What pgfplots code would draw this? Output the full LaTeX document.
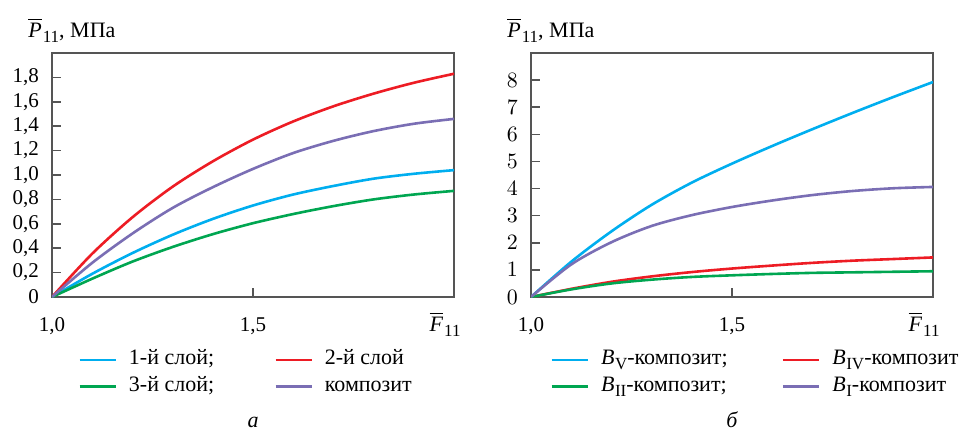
\documentclass[border=0pt]{standalone}
\usepackage{fontspec}
\IfFontExistsTF{LiberationSerif-Regular.ttf}{%
  \setmainfont{LiberationSerif-Regular.ttf}[ItalicFont=LiberationSerif-Italic.ttf, BoldFont=LiberationSerif-Bold.ttf]}{%
  \setmainfont{DejaVu Serif}}
\usepackage{pgfplots}
\pgfplotsset{compat=1.18}
\definecolor{cblue}{HTML}{00AEEF}
\definecolor{cred}{HTML}{ED1C24}
\definecolor{cgreen}{HTML}{00A651}
\definecolor{cpurple}{RGB}{122,110,180}
\definecolor{axgray}{RGB}{85,85,85}
\newcommand{\Pbar}{$\overline{\mbox{\textit{P}}}$\kern0.5pt{\fontsize{8.5}{9}\selectfont\raisebox{-2.5pt}{11}}}
\newcommand{\Fbar}{$\overline{\mbox{\textit{F}}}$\kern0.5pt{\fontsize{8.5}{9}\selectfont\raisebox{-2.5pt}{11}}}
\newcommand{\Bsub}[1]{\textit{B}\kern0.3pt{\fontsize{8.5}{9}\selectfont\raisebox{-2.5pt}{#1}}}
\pgfplotsset{
  mystyle/.style={
    scale only axis, width=201pt, height=122pt,
    font=\fontsize{10.5}{12}\selectfont,
    xmin=1, xmax=2, ymin=0,
    axis line style={axgray, line width=0.9pt},
    tick style={axgray, line width=0.8pt},
    major tick length=4.5pt,
    tick pos=left, tick align=inside,
    xtick={1,1.5}, xticklabels={{1,0},{1,5}},
    xticklabel style={anchor=base, yshift=-17pt},
    yticklabel style={xshift=-3pt},
    every axis plot/.append style={line width=1.3pt, smooth, tension=0.5, no marks},
    legend columns=2,
    legend cell align=left,
    legend image code/.code={\draw[#1] (0pt,0pt) -- (18pt,0pt);},
    legend style={draw=none, fill=none, inner sep=0pt, row sep=3.8pt,
      font=\fontsize{11}{12}\selectfont,
      nodes={inner sep=0pt, text height=7pt, text depth=2.5pt},
      /tikz/every odd column/.append style={column sep=6pt}},
  }
}
\begin{document}
\begin{tikzpicture}
\useasboundingbox (-26pt,-66.5pt) rectangle (459pt,148.5pt);
\begin{axis}[mystyle, name=A, ymax=2.0,
  ytick={0,0.2,0.4,0.6,0.8,1.0,1.2,1.4,1.6,1.8},
  yticklabels={0,{0,2},{0,4},{0,6},{0,8},{1,0},{1,2},{1,4},{1,6},{1,8}},
  legend style={at={(13pt,-26.5pt)}, anchor=north west,
    /tikz/every even column/.append style={column sep=30pt}}]
\addplot[cblue] coordinates {(1.0,0) (1.1,0.19) (1.2,0.36) (1.3,0.51) (1.4,0.64) (1.5,0.75) (1.6,0.84) (1.7,0.91) (1.8,0.97) (1.9,1.01) (2.0,1.04)};
\addlegendentry{1-й слой;}
\addplot[cred] coordinates {(1.0,0) (1.1,0.355) (1.2,0.653) (1.3,0.904) (1.4,1.112) (1.5,1.29) (1.6,1.439) (1.7,1.563) (1.8,1.667) (1.9,1.756) (2.0,1.83)};
\addlegendentry{2-й слой}
\addplot[cgreen] coordinates {(1.0,0) (1.1,0.15) (1.2,0.29) (1.3,0.41) (1.4,0.515) (1.5,0.605) (1.6,0.68) (1.7,0.745) (1.8,0.80) (1.9,0.84) (2.0,0.87)};
\addlegendentry{3-й слой;}
\addplot[cpurple] coordinates {(1.0,0) (1.1,0.28) (1.2,0.52) (1.3,0.73) (1.4,0.90) (1.5,1.05) (1.6,1.18) (1.7,1.28) (1.8,1.36) (1.9,1.42) (2.0,1.46)};
\addlegendentry{композит}
\end{axis}
\node[anchor=base west, inner sep=0pt, font=\fontsize{11}{12}\selectfont] at (-12pt,130pt) {\Pbar, МПа};
\node[anchor=base, inner sep=0pt, font=\fontsize{11}{12}\selectfont] at (196.5pt,-17pt) {\Fbar};
\node[anchor=base, inner sep=0pt, font=\fontsize{11}{12}\selectfont\itshape] at (100.5pt,-65pt) {а};
\begin{axis}[mystyle, name=B, at={(239.5pt,0pt)}, anchor=south west, ymax=9,
  ytick={0,1,2,3,4,5,6,7,8},
  legend style={at={(9.5pt,-26.5pt)}, anchor=north west,
    /tikz/every even column/.append style={column sep=27pt}}]
\addplot[cblue] coordinates {(1.0,0) (1.1,1.30) (1.2,2.42) (1.3,3.40) (1.4,4.22) (1.5,4.92) (1.6,5.57) (1.7,6.19) (1.8,6.79) (1.9,7.37) (2.0,7.93)};
\addlegendentry{\Bsub{V}-композит;}
\addplot[cred] coordinates {(1.0,0) (1.1,0.30) (1.2,0.56) (1.3,0.76) (1.4,0.92) (1.5,1.05) (1.6,1.16) (1.7,1.26) (1.8,1.34) (1.9,1.40) (2.0,1.46)};
\addlegendentry{\Bsub{IV}-композит}
\addplot[cgreen] coordinates {(1.0,0) (1.1,0.28) (1.2,0.50) (1.3,0.64) (1.4,0.74) (1.5,0.80) (1.6,0.85) (1.7,0.89) (1.8,0.91) (1.9,0.93) (2.0,0.95)};
\addlegendentry{\Bsub{II}-композит;}
\addplot[cpurple] coordinates {(1.0,0) (1.1,1.20) (1.2,2.02) (1.3,2.62) (1.4,3.02) (1.5,3.32) (1.6,3.56) (1.7,3.76) (1.8,3.91) (1.9,4.01) (2.0,4.06)};
\addlegendentry{\Bsub{I}-композит}
\end{axis}
\node[anchor=base west, inner sep=0pt, font=\fontsize{11}{12}\selectfont] at (227.5pt,130pt) {\Pbar, МПа};
\node[anchor=base, inner sep=0pt, font=\fontsize{11}{12}\selectfont] at (436pt,-17pt) {\Fbar};
\node[anchor=base, inner sep=0pt, font=\fontsize{11}{12}\selectfont\itshape] at (340pt,-65pt) {б};
\end{tikzpicture}
\end{document}
